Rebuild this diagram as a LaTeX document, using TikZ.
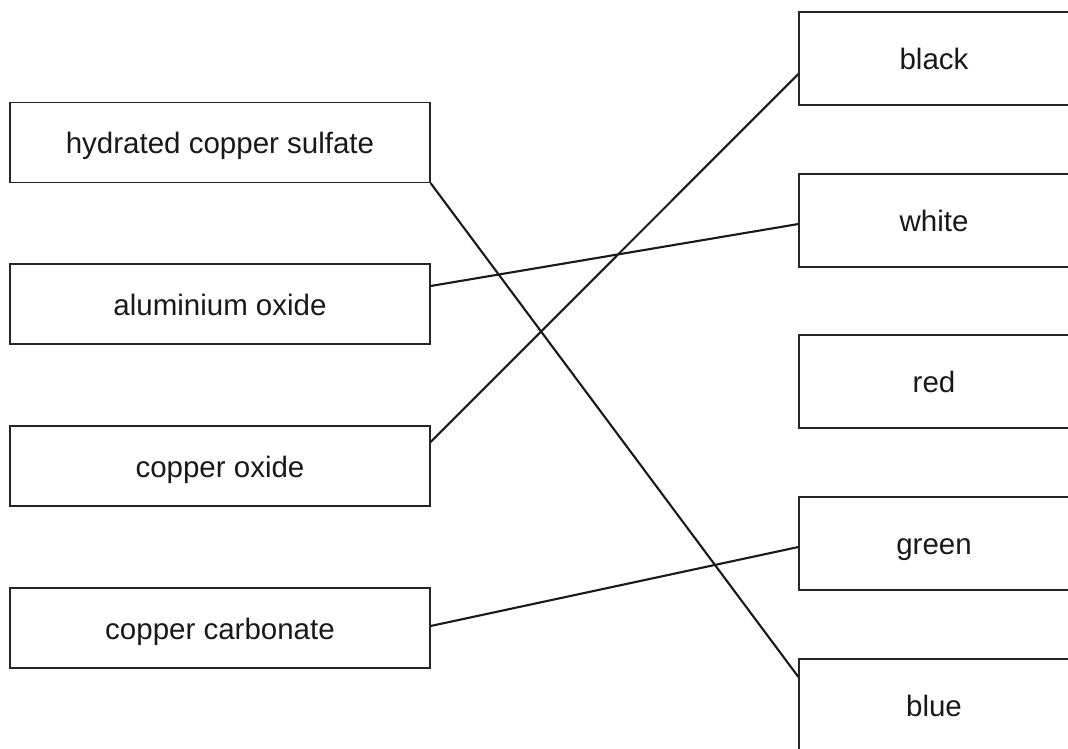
\documentclass[tikz,border=0pt]{standalone}
\usepackage{fontspec}
\setmainfont{Liberation Sans}
\usetikzlibrary{calc}
\tikzset{
  boxtext/.style={font=\fontsize{29.5}{34}\selectfont, text=black!90, text height=26pt, text depth=4pt},
  lbox/.style={draw=black!85, line width=1.2pt, rectangle, inner sep=0pt, minimum width=420pt, minimum height=80pt, boxtext},
  rbox/.style={draw=black!85, line width=1.2pt, rectangle, inner sep=0pt, minimum width=270pt, minimum height=93pt, boxtext},
  link/.style={draw=black!90, line width=2.1pt}
}
\begin{document}
\begin{tikzpicture}[x=1pt,y=-1pt]
\path[use as bounding box, clip] (0,0) rectangle (1068,748);
\fill[white] (0,0) rectangle (1068,748);
\node[lbox] (hyd) at (220,142.5) {hydrated copper sulfate};
\node[lbox] (alu) at (220,304) {aluminium oxide};
\node[lbox] (cox) at (220,466) {copper oxide};
\node[lbox] (cca) at (220,628) {copper carbonate};
\node[rbox] (blk) at (934,58.5) {black};
\node[rbox] (wht) at (934,220.5) {white};
\node[rbox] (red) at (934,381.5) {red};
\node[rbox] (grn) at (934,543.5) {green};
\node[rbox] (blu) at (934,705.5) {blue};
\draw[link] (hyd.south east) -- ([yshift=28.5pt]blu.west);
\draw[link] ([yshift=18pt]alu.east) -- ([yshift=-3.5pt]wht.west);
\draw[link] ([yshift=24pt]cox.east) -- ([yshift=-15.5pt]blk.west);
\draw[link] ([yshift=2pt]cca.east) -- ([yshift=-3.5pt]grn.west);
\end{tikzpicture}
\end{document}
